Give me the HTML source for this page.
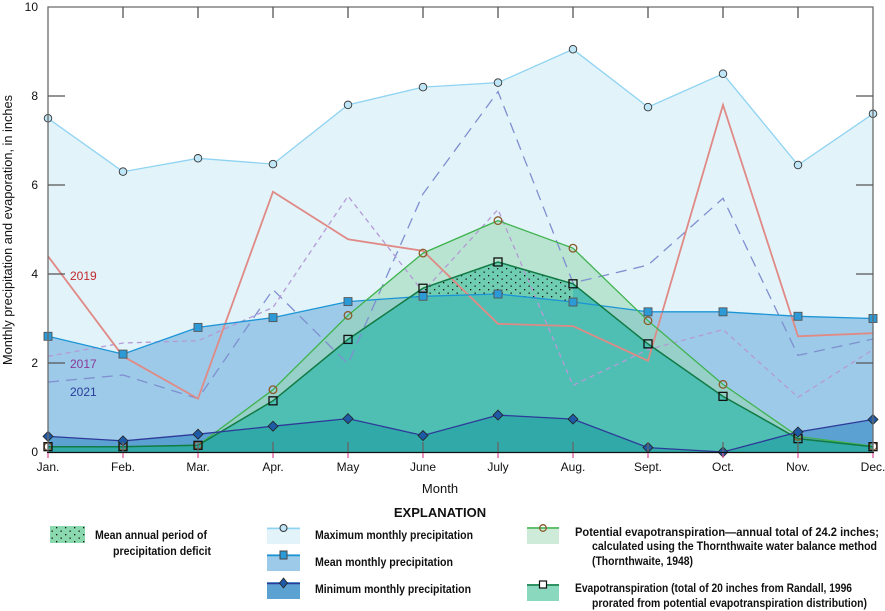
<!DOCTYPE html>
<html><head><meta charset="utf-8">
<style>
body{margin:0;background:#fff;}
svg{display:block;font-family:"Liberation Sans Narrow","Liberation Sans",sans-serif;}
.t{font-size:12px;fill:#111;}
.lg{font-size:12px;font-weight:bold;fill:#111;}
</style></head><body>
<svg id="s" width="885" height="611" viewBox="0 0 885 611" xmlns="http://www.w3.org/2000/svg">
<defs>
<pattern id="dots" width="9" height="7" patternUnits="userSpaceOnUse">
<rect x="2" y="2" width="1.3" height="1.3" fill="#111"/><rect x="6.5" y="5.5" width="1.3" height="1.3" fill="#111"/>
</pattern>
</defs>
<g id="g"></g>
</svg>
<script>
var X=function(i){return 48+75*i;},Y=function(v){return 452-v*44.5;};
var maxP=[7.5,6.3,6.6,6.47,7.8,8.2,8.3,9.05,7.75,8.5,6.45,7.6];
var mean=[2.6,2.2,2.8,3.02,3.38,3.5,3.55,3.37,3.15,3.15,3.05,3.0];
var minP=[0.35,0.25,0.4,0.58,0.75,0.37,0.83,0.74,0.1,0,0.45,0.73];
var pet=[0.12,0.12,0.15,1.4,3.07,4.47,5.2,4.58,2.95,1.52,0.35,0.13];
var et=[0.12,0.12,0.15,1.15,2.53,3.68,4.27,3.78,2.43,1.25,0.3,0.12];
var y19=[4.4,2.15,1.2,5.85,4.78,4.52,2.88,2.83,2.05,7.8,2.6,2.67];
var y21=[1.57,1.73,1.2,3.65,1.98,5.8,8.1,3.8,4.2,5.7,2.17,2.54];
var y17=[2.15,2.45,2.5,3.25,5.75,3.6,5.45,1.5,2.3,2.75,1.23,2.3];
function pts(a){return a.map(function(v,i){return X(i).toFixed(1)+","+Y(v).toFixed(1);}).join(" ");}
function area(a){return "48,452 "+pts(a)+" 873,452";}
var h="";
h+='<polygon points="'+area(maxP)+'" fill="#e2f3fa"/>';
h+='<polygon points="'+area(mean)+'" fill="#9dcae8"/>';
h+='<polygon points="'+area(pet)+'" fill="#8fd6a8" fill-opacity="0.5"/>';
h+='<polygon points="'+area(minP)+'" fill="#5ba2d3"/>';
h+='<clipPath id="ec"><polygon points="'+area(et)+'"/></clipPath>';
h+='<polygon points="'+area(et)+'" fill="#4fbfb3"/>';
h+='<polygon points="'+area(minP)+'" fill="#31a9a8" clip-path="url(#ec)"/>';
var d=[[412,Y(3.49)],[X(5),Y(3.68)],[X(6),Y(4.27)],[X(7),Y(3.78)],[X(7),Y(3.37)],[X(6),Y(3.55)],[X(5),Y(3.5)]];
var ds=d.map(function(p){return p[0].toFixed(1)+","+p[1].toFixed(1);}).join(" ");
h+='<polygon points="'+ds+'" fill="#6fcdb1"/><polygon points="'+ds+'" fill="url(#dots)"/>';
function line(a,c,w,dash){return '<polyline points="'+pts(a)+'" fill="none" stroke="'+c+'" stroke-width="'+w+'"'+(dash?' stroke-dasharray="'+dash+'"':'')+'/>';}
h+=line(y21,"#7f8fd0",1.3,"11,7");
h+=line(y17,"#b59ad6",1.3,"5,4");
h+=line(y19,"#e08a86",1.8);
h+=line(maxP,"#8fd3f2",1.3);
h+=line(mean,"#1c95d6",1.3);
h+=line(pet,"#3fb34f",1.3);
h+=line(et,"#117a45",1.5);
h+=line(minP,"#2d3a99",1.3);
for(var i=0;i<12;i++){
 h+='<circle cx="'+X(i)+'" cy="'+Y(maxP[i])+'" r="3.8" fill="#bfe6f7" stroke="#333" stroke-width="0.9"/>';
 h+='<rect x="'+(X(i)-4)+'" y="'+(Y(mean[i])-4)+'" width="8" height="8" fill="#2d9ad8" stroke="#555" stroke-width="0.9"/>';
 h+='<circle cx="'+X(i)+'" cy="'+Y(pet[i])+'" r="3.8" fill="none" stroke="#8a5a2a" stroke-width="1.3"/>';
 h+='<rect x="'+(X(i)-4)+'" y="'+(Y(et[i])-4)+'" width="8" height="8" fill="none" stroke="#111" stroke-width="1.3"/>';
 var cx=X(i),cy=Y(minP[i]);
 h+='<polygon points="'+cx+','+(cy-5)+' '+(cx+5)+','+cy+' '+cx+','+(cy+5)+' '+(cx-5)+','+cy+'" fill="#1f5aa6" stroke="#222" stroke-width="0.8"/>';
}
h+='<path d="M48,452V7H873V452" fill="none" stroke="#6a6a6a" stroke-width="1.3"/>';
h+='<line x1="47" y1="452.5" x2="874" y2="452.5" stroke="#111" stroke-width="1.2"/>';
for(var i=1;i<11;i++){h+='<line x1="'+X(i)+'" y1="7" x2="'+X(i)+'" y2="18" stroke="#555" stroke-width="1.3"/>';
 h+='<line x1="'+X(i)+'" y1="442" x2="'+X(i)+'" y2="452" stroke="#666" stroke-width="1.3"/>';}
for(var i=0;i<12;i++)h+='<line x1="'+X(i)+'" y1="453" x2="'+X(i)+'" y2="458" stroke="#e05aa0" stroke-width="1.3"/>';
for(var v=2;v<=8;v+=2){h+='<line x1="48" y1="'+Y(v)+'" x2="65" y2="'+Y(v)+'" stroke="#555" stroke-width="1.2"/><line x1="856" y1="'+Y(v)+'" x2="873" y2="'+Y(v)+'" stroke="#555" stroke-width="1.2"/>';}
for(var v=0;v<=10;v+=2)h+='<text class="t" x="38" y="'+(Y(v)+4)+'" text-anchor="end">'+v+'</text>';
var m=["Jan.","Feb.","Mar.","Apr.","May","June","July","Aug.","Sept.","Oct.","Nov.","Dec."];
for(var i=0;i<12;i++)h+='<text class="t" x="'+X(i)+'" y="471" text-anchor="middle">'+m[i]+'</text>';
h+='<text class="t" x="440" y="493" text-anchor="middle" style="font-size:13px">Month</text>';
h+='<text class="t" transform="translate(12,230) rotate(-90)" text-anchor="middle" style="font-size:13px" textLength="270" lengthAdjust="spacingAndGlyphs">Monthly precipitation and evaporation, in inches</text>';
h+='<text class="t" x="70" y="280" style="fill:#c0282e">2019</text>';
h+='<text class="t" x="70" y="368" style="fill:#8a3a9a">2017</text>';
h+='<text class="t" x="70" y="396" style="fill:#2a3c9a">2021</text>';
function T(x,y,w,s){return '<text class="lg" x="'+x+'" y="'+y+'" textLength="'+w+'" lengthAdjust="spacingAndGlyphs">'+s+'</text>';}
h+='<text class="lg" x="440" y="517" text-anchor="middle" style="font-size:13px">EXPLANATION</text>';
h+='<rect x="50" y="526" width="35" height="17" fill="#8ad8ae"/><rect x="50" y="526" width="35" height="17" fill="url(#dots)"/>';
h+=T(95,539,112,"Mean annual period of")+T(113,555,98,"precipitation deficit");
function sw(y,fill,lc,mk){return '<rect x="267" y="'+y+'" width="33" height="17" fill="'+fill+'"/><line x1="267" y1="'+(y+1.5)+'" x2="300" y2="'+(y+1.5)+'" stroke="'+lc+'" stroke-width="1.5"/>'+mk;}
h+=sw(527,"#e2f3fa","#8fd3f2",'<circle cx="283.5" cy="528" r="3.5" fill="#bfe6f7" stroke="#333"/>');
h+=T(315,539,158,"Maximum monthly precipitation");
h+=sw(554,"#9dcae8","#1c95d6",'<rect x="280" y="551" width="7" height="8" fill="#2d9ad8" stroke="#444"/>');
h+=T(315,566,138,"Mean monthly precipitation");
h+=sw(582,"#5ba2d3","#2d3a99",'<polygon points="283.5,578 287.5,583 283.5,588 279.5,583" fill="#1f5aa6" stroke="#222" stroke-width="0.8"/>');
h+=T(315,593,156,"Minimum monthly precipitation");
h+='<rect x="527" y="527" width="32" height="17" fill="#cdebd8"/><line x1="527" y1="528" x2="559" y2="528" stroke="#3fb34f" stroke-width="1.5"/><circle cx="543" cy="528" r="3.3" fill="none" stroke="#8a5a2a" stroke-width="1.3"/>';
h+=T(575,536,304,"Potential evapotranspiration—annual total of 24.2 inches;");
h+=T(592,550,285,"calculated using the Thornthwaite water balance method");
h+=T(592,565,101,"(Thornthwaite, 1948)");
h+='<rect x="527" y="584" width="32" height="17" fill="#8ad8be"/><line x1="527" y1="585" x2="559" y2="585" stroke="#117a45" stroke-width="1.5"/><rect x="539.5" y="581" width="7" height="7" fill="#fff" stroke="#111" stroke-width="1.2"/>';
h+=T(575,592,277,"Evapotranspiration (total of 20 inches from Randall, 1996");
h+=T(592,607,275,"prorated from potential evapotranspiration distribution)");
document.getElementById("g").innerHTML=h;
</script>
</body></html>
